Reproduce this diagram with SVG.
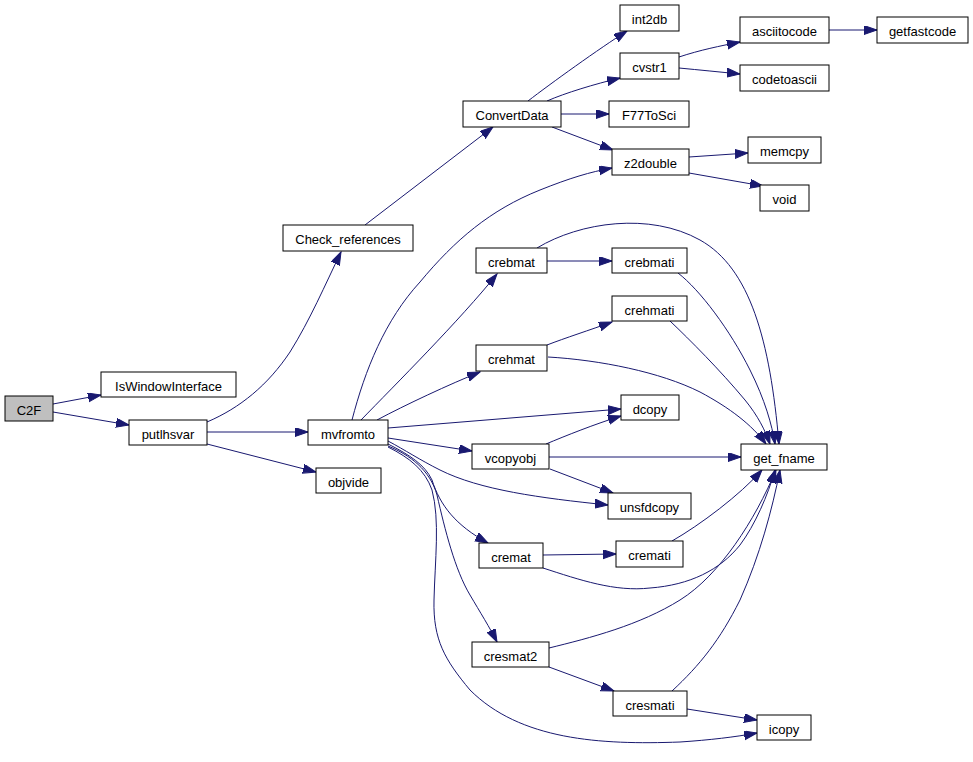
<svg xmlns="http://www.w3.org/2000/svg" width="973" height="762" viewBox="0 0 973 762">
<style>
.n rect{fill:#fff;stroke:#000;stroke-width:1}
.n text{font-family:"Liberation Sans",Arial,sans-serif;font-size:13px;text-anchor:middle;fill:#000}
#edges path{fill:none;stroke:#191970;stroke-width:1;marker-end:url(#a)}
</style>
<defs>
<marker id="a" markerUnits="userSpaceOnUse" markerWidth="14" markerHeight="10" refX="13" refY="4.5" orient="auto">
<path d="M0,0 L13,4.5 L0,9 z" fill="#191970" stroke="#191970" stroke-width="1"/>
</marker>
</defs>
<rect width="973" height="762" fill="#fff"/>
<g id="edges">
<path d="M53,404 L101,395"/>
<path d="M53,412 L129,425"/>
<path d="M207,422 C240,408 268,385 290,352 C310,320 325,285 341,252"/>
<path d="M207,432 L308,432"/>
<path d="M207,444 L316,472"/>
<path d="M365,225 L493,127"/>
<path d="M528,101 C550,84 600,48 627,31"/>
<path d="M547,101 C565,93 595,84 620,78"/>
<path d="M561,114 L609,114"/>
<path d="M552,127 L613,150"/>
<path d="M679,57 C700,50 720,46 740,42"/>
<path d="M679,68 C700,70 720,72 740,74"/>
<path d="M829,30 L877,30"/>
<path d="M689,157 L748,153"/>
<path d="M689,173 L763,186"/>
<path d="M352,420 C365,370 385,320 420,282 C455,240 490,210 540,190 C570,178 590,172 612,168"/>
<path d="M361,420 C395,385 460,320 497,274"/>
<path d="M377,420 C405,405 450,384 480,372"/>
<path d="M388,428 L621,409"/>
<path d="M388,438 L472,451"/>
<path d="M388,441 C405,450 420,460 440,470 C480,490 540,498 608,505"/>
<path d="M388,444 C410,455 425,465 432,480 C440,505 455,525 488,543"/>
<path d="M388,446 C410,455 430,470 437,495 C445,530 455,570 470,595 C480,612 490,628 497,642"/>
<path d="M388,447 C410,458 425,470 432,490 C440,520 435,560 434,600 C433,640 445,660 470,690 C520,740 600,745 680,742 C710,740 735,737 757,733"/>
<path d="M546,444 C565,436 595,424 621,416"/>
<path d="M549,457 L741,457"/>
<path d="M550,469 L613,493"/>
<path d="M547,261 L612,261"/>
<path d="M537,248 C580,222 650,212 700,240 C750,268 770,340 779,444"/>
<path d="M678,273 C700,290 730,330 750,370 C765,400 772,425 775,444"/>
<path d="M547,345 C565,338 590,330 612,322"/>
<path d="M670,321 C690,340 720,370 745,400 C758,416 765,430 770,444"/>
<path d="M548,357 C600,360 660,372 700,392 C730,408 752,425 766,444"/>
<path d="M543,555 L616,554"/>
<path d="M543,568 C580,580 615,592 650,588 C690,585 720,570 740,545 C755,525 768,495 775,470"/>
<path d="M672,541 C700,525 740,495 762,470"/>
<path d="M549,648 C590,638 640,625 680,600 C720,575 755,520 776,470"/>
<path d="M549,667 L614,691"/>
<path d="M672,691 C700,665 720,640 740,600 C760,555 772,510 780,470"/>
<path d="M687,709 L757,720"/>
</g>
<g id="C2F" class="n"><rect x="5" y="396" width="48" height="25" style="fill:#bfbfbf"/><text x="29" y="415">C2F</text></g>
<g id="IsWindowInterface" class="n"><rect x="101" y="372" width="135" height="25"/><text x="168.5" y="391">IsWindowInterface</text></g>
<g id="putlhsvar" class="n"><rect x="129" y="420" width="78" height="25"/><text x="168" y="439">putlhsvar</text></g>
<g id="Check_references" class="n"><rect x="283" y="225" width="130" height="26"/><text x="348" y="244">Check_references</text></g>
<g id="mvfromto" class="n"><rect x="308" y="420" width="80" height="25"/><text x="348" y="439">mvfromto</text></g>
<g id="objvide" class="n"><rect x="316" y="468" width="65" height="25"/><text x="348.5" y="487">objvide</text></g>
<g id="ConvertData" class="n"><rect x="463" y="101" width="98" height="26"/><text x="512" y="120">ConvertData</text></g>
<g id="int2db" class="n"><rect x="620" y="5" width="59" height="26"/><text x="649.5" y="24">int2db</text></g>
<g id="cvstr1" class="n"><rect x="620" y="53" width="59" height="26"/><text x="649.5" y="72">cvstr1</text></g>
<g id="F77ToSci" class="n"><rect x="609" y="101" width="80" height="26"/><text x="649" y="120">F77ToSci</text></g>
<g id="z2double" class="n"><rect x="612" y="149" width="77" height="26"/><text x="650.5" y="168">z2double</text></g>
<g id="asciitocode" class="n"><rect x="740" y="17" width="89" height="26"/><text x="784.5" y="36">asciitocode</text></g>
<g id="getfastcode" class="n"><rect x="877" y="17" width="91" height="26"/><text x="922.5" y="36">getfastcode</text></g>
<g id="codetoascii" class="n"><rect x="740" y="65" width="89" height="26"/><text x="784.5" y="84">codetoascii</text></g>
<g id="memcpy" class="n"><rect x="748" y="137" width="73" height="26"/><text x="784.5" y="156">memcpy</text></g>
<g id="void" class="n"><rect x="760" y="185" width="49" height="26"/><text x="784.5" y="204">void</text></g>
<g id="crebmat" class="n"><rect x="476" y="248" width="71" height="25"/><text x="511.5" y="267">crebmat</text></g>
<g id="crebmati" class="n"><rect x="612" y="248" width="75" height="25"/><text x="649.5" y="267">crebmati</text></g>
<g id="crehmati" class="n"><rect x="612" y="296" width="75" height="25"/><text x="649.5" y="315">crehmati</text></g>
<g id="crehmat" class="n"><rect x="476" y="345" width="71" height="26"/><text x="511.5" y="364">crehmat</text></g>
<g id="dcopy" class="n"><rect x="621" y="395" width="58" height="25"/><text x="650" y="414">dcopy</text></g>
<g id="vcopyobj" class="n"><rect x="472" y="444" width="77" height="25"/><text x="510.5" y="463">vcopyobj</text></g>
<g id="get_fname" class="n"><rect x="741" y="444" width="86" height="26"/><text x="784" y="463">get_fname</text></g>
<g id="unsfdcopy" class="n"><rect x="608" y="493" width="83" height="26"/><text x="649.5" y="512">unsfdcopy</text></g>
<g id="cremat" class="n"><rect x="479" y="543" width="64" height="25"/><text x="511" y="562">cremat</text></g>
<g id="cremati" class="n"><rect x="616" y="541" width="67" height="26"/><text x="649.5" y="560">cremati</text></g>
<g id="cresmat2" class="n"><rect x="472" y="642" width="77" height="25"/><text x="510.5" y="661">cresmat2</text></g>
<g id="cresmati" class="n"><rect x="613" y="691" width="74" height="25"/><text x="650" y="710">cresmati</text></g>
<g id="icopy" class="n"><rect x="757" y="715" width="54" height="25"/><text x="784" y="734">icopy</text></g>
</svg>
